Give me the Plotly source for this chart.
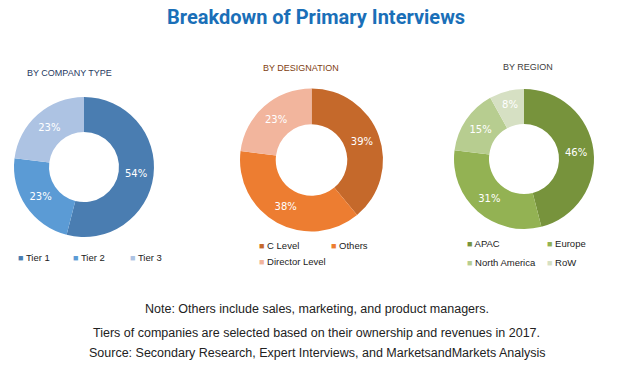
import plotly.graph_objects as go

title = "Breakdown of Primary Interviews"

company_labels = ["Tier 1", "Tier 2", "Tier 3"]
company_values = [54, 23, 23]
company_colors = ["#4a7db1", "#5b9bd5", "#adc3e3"]

designation_labels = ["C Level", "Others", "Director Level"]
designation_values = [39, 38, 23]
designation_colors = ["#c5692b", "#ed7d31", "#f2b59d"]

region_labels = ["APAC", "Europe", "North America", "RoW"]
region_values = [46, 31, 15, 8]
region_colors = ["#77933c", "#93b253", "#b7cd90", "#d6e0c3"]

subtitles = ["BY COMPANY TYPE", "BY DESIGNATION", "BY REGION"]
subtitle_colors = ["#1f3a5f", "#7f3f12", "#404040"]

footer = [
    "Note: Others include sales, marketing, and product managers.",
    "Tiers of companies are selected based on their ownership and revenues in 2017.",
    "Source: Secondary Research, Expert Interviews, and MarketsandMarkets Analysis",
]

W, H = 629, 371

def dom(cx, cy, r):
    return dict(x=[(cx - r) / W, (cx + r) / W], y=[1 - (cy + r) / H, 1 - (cy - r) / H])

pies = [
    (company_labels, company_values, company_colors, dom(84, 167, 70)),
    (designation_labels, designation_values, designation_colors, dom(311.5, 160, 71.5)),
    (region_labels, region_values, region_colors, dom(524, 159, 70)),
]

fig = go.Figure()
for labels, values, colors, d in pies:
    fig.add_trace(go.Pie(
        labels=labels, values=values, hole=0.5, sort=False, direction="clockwise",
        rotation=0, domain=d, marker=dict(colors=colors, line=dict(width=0)),
        texttemplate="%{value}%", textposition="inside", insidetextorientation="horizontal",
        textfont=dict(color="white", size=10, family="DejaVu Sans"),
        showlegend=False, hoverinfo="label+percent",
    ))

annotations = []
# title
annotations.append(dict(x=316 / W, y=1 - 17 / H, xref="paper", yref="paper", text=f"<b>{title}</b>",
                        showarrow=False, font=dict(size=20, color="#1a6fb8", family="Roboto"),
                        xanchor="center", yanchor="middle"))
# subtitles
for (sx, sy), txt, col in zip([(69, 73), (301, 68), (528, 67)], subtitles, subtitle_colors):
    annotations.append(dict(x=sx / W, y=1 - sy / H, xref="paper", yref="paper", text=txt,
                            showarrow=False, font=dict(size=9, color=col, family="Liberation Sans"),
                            xanchor="center", yanchor="middle"))

# legends (marker + text)
legend_pos = [
    [(19, 257), (74, 257), (131, 257)],
    [(260, 245), (332, 245), (260, 261)],
    [(468, 243), (548, 243), (468, 262), (548, 262)],
]
for (labels, values, colors, d), poss in zip(pies, legend_pos):
    for lab, col, (lx, ly) in zip(labels, colors, poss):
        annotations.append(dict(x=(lx - 3) / W, y=1 - ly / H, xref="paper", yref="paper",
                                text=f"<span style='color:{col};font-size:9px'>■</span> {lab}",
                                showarrow=False, font=dict(size=9.5, color="#222222", family="Liberation Sans"),
                                xanchor="left", yanchor="middle"))

for fy, txt in zip([309, 333, 353], footer):
    annotations.append(dict(x=317 / W, y=1 - fy / H, xref="paper", yref="paper", text=txt,
                            showarrow=False, font=dict(size=12.5, color="#222222", family="Liberation Sans"),
                            xanchor="center", yanchor="middle"))

fig.update_layout(width=W, height=H, margin=dict(l=0, r=0, t=0, b=0),
                  paper_bgcolor="white", plot_bgcolor="white", annotations=annotations)

fig.write_html("out.html", config={"displayModeBar": False},
               post_script="document.body.style.margin='0px';document.body.style.padding='0px';")
